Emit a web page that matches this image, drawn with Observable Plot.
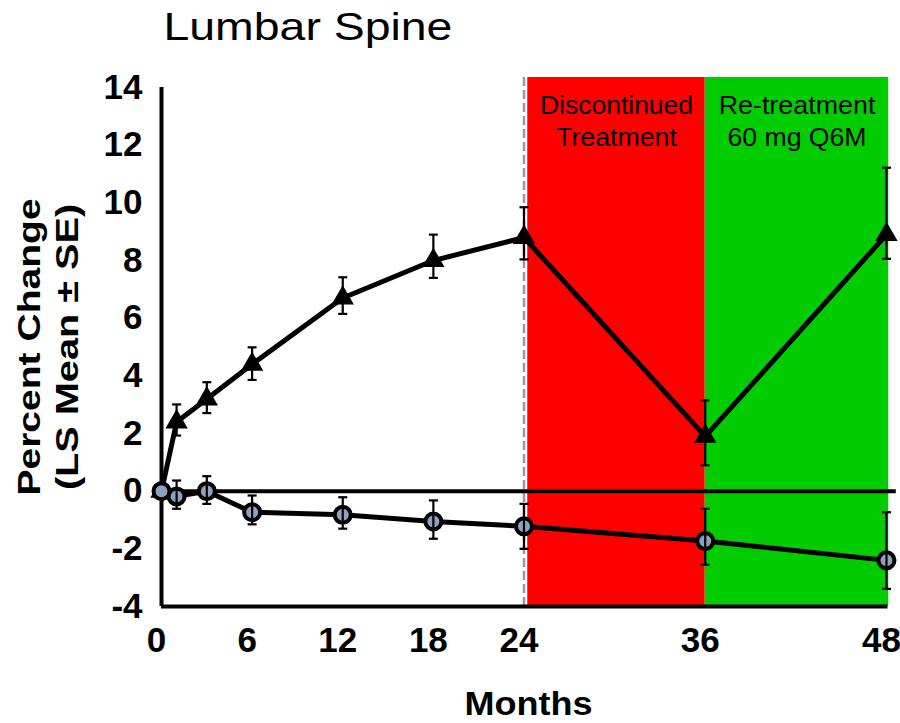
<!DOCTYPE html>
<html><head><meta charset="utf-8">
<script src="https://cdn.jsdelivr.net/npm/d3@7"></script>
<script src="https://cdn.jsdelivr.net/npm/@observablehq/plot@0.6"></script>
<style>body{margin:0;background:#fff}</style>
</head><body><div id="chart"></div>
<script>
// ---- data ----
const months      = [0, 1, 3, 6, 12, 18, 24, 36, 48];
const treatedMean = [0, 2.4, 3.2, 4.4, 6.7, 8.0, 8.8, 1.9, 8.9];
const treatedLo   = [null, 1.93, 2.71, 3.86, 6.15, 7.40, 8.04, 0.90, 8.06];
const treatedHi   = [null, 3.01, 3.78, 4.99, 7.42, 8.90, 9.85, 3.15, 11.22];
const placeboMean = [0, -0.18, 0.0, -0.73, -0.82, -1.05, -1.22, -1.73, -2.40];
const placeboLo   = [null, -0.61, -0.44, -1.15, -1.30, -1.65, -2.00, -2.55, -3.39];
const placeboHi   = [null, 0.37, 0.52, -0.15, -0.21, -0.32, -0.44, -0.61, -0.73];

const phaseNames  = ["Discontinued", "Re-treatment"];
const phaseLine1  = ["Discontinued", "Re-treatment"];
const phaseLine2  = ["Treatment", "60 mg Q6M"];
const phaseStart  = [24.25, 36];
const phaseEnd    = [36, 48.15];
const phaseColors = ["#ff0000", "#00cc00"];
const phaseBottom = -4, phaseTop = 14.35;

const xTicks = [0, 6, 12, 18, 24, 36, 48];
const yTicks = [-4, -2, 0, 2, 4, 6, 8, 10, 12, 14];

const titleText = "Lumbar Spine";
const xLabel = "Months";
const yLabel1 = "Percent Change";
const yLabel2 = "(LS Mean \u00b1 SE)";

// ---- tables ----
const treated = months.map((m, i) => ({month: m, mean: treatedMean[i], lo: treatedLo[i], hi: treatedHi[i]}));
const placebo = months.map((m, i) => ({month: m, mean: placeboMean[i], lo: placeboLo[i], hi: placeboHi[i]}));
const errs = [...treated, ...placebo].filter(d => d.lo != null);
const phases = phaseNames.map((n, i) => ({name: n, l1: phaseLine1[i], l2: phaseLine2[i], start: phaseStart[i], end: phaseEnd[i], color: phaseColors[i]}));

const capSymbol = {draw(ctx, size) { const w = Math.sqrt(size / Math.PI); ctx.moveTo(-w, 0); ctx.lineTo(w, 0); }};
const FONT = "'Liberation Sans', Arial, Helvetica, sans-serif";

const marks = [];
phases.forEach(p => {
  marks.push(Plot.rect([p], {x1: "start", x2: "end", y1: () => phaseBottom, y2: () => phaseTop, fill: p.color}));
});
marks.push(
  Plot.ruleX([24], {x: d => d, y1: phaseBottom, y2: phaseTop, stroke: "#9a9a9a", strokeWidth: 2.5, strokeDasharray: "9,4"}),
  Plot.ruleY([0], {y: d => d, x1: 0, x2: 48.65, stroke: "#000", strokeWidth: 4}),
  Plot.ruleY([-4], {y: d => d, x1: 0, x2: 48.1, stroke: "#000", strokeWidth: 4}),
  Plot.ruleX([0], {x: d => d, y1: -4, y2: 14, stroke: "#000", strokeWidth: 4}),
  Plot.line(treated, {x: "month", y: "mean", stroke: "#000", strokeWidth: 5}),
  Plot.line(placebo, {x: "month", y: "mean", stroke: "#000", strokeWidth: 5}),
  Plot.dot(treated, {x: "month", y: "mean", symbol: "triangle", r: 8.3, fill: "#000", stroke: "none"}),
  Plot.dot(placebo, {x: "month", y: "mean", r: 8, fill: "#8fa1bf", stroke: "#000", strokeWidth: 4}),
  Plot.ruleX(errs, {x: "month", y1: "lo", y2: "hi", stroke: "#000", strokeWidth: 2.2}),
  Plot.dot(errs, {x: "month", y: "lo", symbol: capSymbol, r: 4.5, stroke: "#000", strokeWidth: 2.2, fill: "none"}),
  Plot.dot(errs, {x: "month", y: "hi", symbol: capSymbol, r: 4.5, stroke: "#000", strokeWidth: 2.2, fill: "none"}),
  Plot.axisY({ticks: yTicks, tickSize: 0, tickPadding: 19, fontSize: 35, fontWeight: "bold", label: null, tickFormat: d => String(d)}),
  Plot.axisX({ticks: xTicks, tickSize: 0, tickPadding: 21, fontSize: 35, fontWeight: "bold", label: null, tickFormat: d => String(d), dx: -5}),
  Plot.text(phases, {x: d => (d.start + d.end) / 2, text: "l1", frameAnchor: "top", dy: 36, lineAnchor: "bottom", textAnchor: "middle", fontSize: 25, fill: "#000"}),
  Plot.text(phases, {x: d => (d.start + d.end) / 2, text: "l2", frameAnchor: "top", dy: 68, lineAnchor: "bottom", textAnchor: "middle", fontSize: 25, fill: "#000"}),
  Plot.text([titleText], {text: d => d, frameAnchor: "top-left", dx: 2, dy: -38, textAnchor: "start", lineAnchor: "bottom", fontSize: 39, fill: "#000"}),
  Plot.text([xLabel], {text: d => d, frameAnchor: "bottom", dx: 3, dy: 108, lineAnchor: "bottom", textAnchor: "middle", fontSize: 34, fontWeight: "bold", fill: "#000"}),
  Plot.text([yLabel1], {text: d => d, frameAnchor: "left", rotate: -90, dx: -122, dy: 5, lineAnchor: "bottom", textAnchor: "middle", fontSize: 32, fontWeight: "bold", fill: "#000"}),
  Plot.text([yLabel2], {text: d => d, frameAnchor: "left", rotate: -90, dx: -84, dy: 5, lineAnchor: "bottom", textAnchor: "middle", fontSize: 32, fontWeight: "bold", fill: "#000"})
);

const chart = Plot.plot({
  width: 900, height: 723,
  marginTop: 77, marginBottom: 117, marginLeft: 161, marginRight: 11,
  x: {domain: [0, 48.2]},
  y: {domain: [-4, 14.35]},
  style: {fontFamily: FONT, color: "#000", background: "#fff", overflow: "visible"},
  marks
});
document.getElementById("chart").appendChild(chart);

// the reference's texts are horizontally stretched: scale them along their baseline
function stretchText(content, sx) {
  d3.select(chart).selectAll("text")
    .filter(function() { return this.textContent === content; })
    .each(function() {
      const el = d3.select(this);
      const t = el.attr("transform") || "";
      const x = +el.attr("x") || 0, y = +el.attr("y") || 0;
      el.attr("transform", `${t} translate(${x},${y}) scale(${sx},1) translate(${-x},${-y})`);
    });
}
stretchText(titleText, 1.19);
stretchText(yLabel1, 1.22);
stretchText(yLabel2, 1.24);
stretchText("Discontinued", 1.06);
stretchText("Treatment", 1.07);
stretchText("Re-treatment", 1.075);
stretchText("60 mg Q6M", 1.065);
stretchText(xLabel, 1.06);
</script>
</body></html>
